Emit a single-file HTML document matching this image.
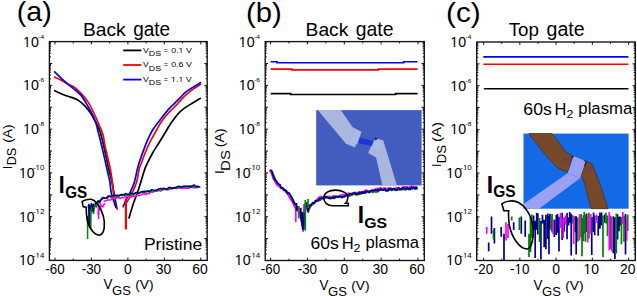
<!DOCTYPE html>
<html><head><meta charset="utf-8"><style>
html,body{margin:0;padding:0;background:#fff;width:637px;height:296px;overflow:hidden}
svg{display:block}
text{fill:#000}
</style></head><body><svg width="637" height="296" viewBox="0 0 637 296" font-family='"Liberation Sans", sans-serif'><path d="M54.7 90.7 C56.17 91.37 60.68 93.58 63.5 94.7 C66.32 95.82 69.12 96.45 71.6 97.4 C74.08 98.35 76.2 99 78.4 100.4 C80.6 101.8 82.83 103.77 84.8 105.8 C86.77 107.83 88.4 109.9 90.2 112.6 C92 115.3 93.98 118.93 95.6 122 C97.22 125.07 98.53 126.97 99.9 131 C101.27 135.03 102.37 140.07 103.8 146.2 C105.23 152.33 107.22 162.17 108.5 167.8 C109.78 173.43 110.5 175.3 111.5 180 C112.5 184.7 113.63 191.42 114.5 196 C115.37 200.58 116.33 205.58 116.7 207.5" fill="none" stroke="#000" stroke-width="1.7" stroke-linejoin="round" stroke-linecap="round"/><path d="M54.7 77.2 C55.72 77.65 58.65 78.78 60.8 79.9 C62.95 81.02 65.35 82.67 67.6 83.9 C69.85 85.13 72.05 85.72 74.3 87.3 C76.55 88.88 78.68 90.77 81.1 93.4 C83.52 96.03 86.62 99.68 88.8 103.1 C90.98 106.52 92.4 110.07 94.2 113.9 C96 117.73 98.13 122.58 99.6 126.1 C101.07 129.62 102.08 131.65 103 135 C103.92 138.35 103.85 140.37 105.1 146.2 C106.35 152.03 109.2 163.33 110.5 170 C111.8 176.67 112.38 181.97 112.9 186.2 C113.42 190.43 113.22 192.35 113.6 195.4 C113.98 198.45 114.57 202.23 115.2 204.5 C115.83 206.77 117.03 208.25 117.4 209" fill="none" stroke="#f00" stroke-width="1.7" stroke-linejoin="round" stroke-linecap="round"/><path d="M54.7 71.8 C55.72 72.8 58.65 75.78 60.8 77.8 C62.95 79.82 65.35 81.98 67.6 83.9 C69.85 85.82 72.05 87.38 74.3 89.3 C76.55 91.22 79.13 93.1 81.1 95.4 C83.07 97.7 84.37 100.23 86.1 103.1 C87.83 105.97 89.92 109.45 91.5 112.6 C93.08 115.75 94.57 119.1 95.6 122 C96.63 124.9 96.67 125.97 97.7 130 C98.73 134.03 100.22 139.53 101.8 146.2 C103.38 152.87 105.87 164.08 107.2 170 C108.53 175.92 109.1 177.73 109.8 181.7 C110.5 185.67 110.63 190.25 111.4 193.8 C112.17 197.35 113.65 200.72 114.4 203 C115.15 205.28 115.65 206.75 115.9 207.5" fill="none" stroke="#00f" stroke-width="1.7" stroke-linejoin="round" stroke-linecap="round"/><path d="M129 218 C129.72 215.63 131.67 208.72 133.3 203.8 C134.93 198.88 136.93 194.13 138.8 188.5 C140.67 182.87 143 174.35 144.5 170 C146 165.65 146.45 165.23 147.8 162.4 C149.15 159.57 150.68 156.37 152.6 153 C154.52 149.63 156.93 146.03 159.3 142.2 C161.67 138.37 164.95 133.03 166.8 130 C168.65 126.97 168.98 126.13 170.4 124 C171.82 121.87 173.67 119.25 175.3 117.2 C176.93 115.15 178.38 113.42 180.2 111.7 C182.02 109.98 184.18 108.32 186.2 106.9 C188.22 105.48 190.47 104.32 192.3 103.2 C194.13 102.08 195.85 101.02 197.2 100.2 C198.55 99.38 199.87 98.62 200.4 98.3" fill="none" stroke="#000" stroke-width="1.7" stroke-linejoin="round" stroke-linecap="round"/><path d="M126.5 202.5 C127.27 201.25 129.42 198.43 131.1 195 C132.78 191.57 135.27 186.2 136.6 181.9 C137.93 177.6 138.35 172.22 139.1 169.2 C139.85 166.18 140.1 166.5 141.1 163.8 C142.1 161.1 143.63 156.6 145.1 153 C146.57 149.4 147.98 146.03 149.9 142.2 C151.82 138.37 154.72 133.37 156.6 130 C158.48 126.63 159.3 124.75 161.2 122 C163.1 119.25 165.85 115.92 168 113.5 C170.15 111.08 172.07 109.62 174.1 107.5 C176.13 105.38 178.18 102.93 180.2 100.8 C182.22 98.67 183.98 96.68 186.2 94.7 C188.42 92.72 191.12 90.62 193.5 88.9 C195.88 87.18 199.33 85.15 200.5 84.4" fill="none" stroke="#f00" stroke-width="1.7" stroke-linejoin="round" stroke-linecap="round"/><path d="M123.2 206.6 C123.8 205.22 125.67 200.6 126.8 198.3 C127.93 196 128.73 195.53 130 192.8 C131.27 190.07 133.15 185.95 134.4 181.9 C135.65 177.85 136.62 171.97 137.5 168.5 C138.38 165.03 138.77 163.92 139.7 161.1 C140.63 158.28 141.85 154.98 143.1 151.6 C144.35 148.22 145.62 144.4 147.2 140.8 C148.78 137.2 150.72 133.13 152.6 130 C154.48 126.87 155.93 125.35 158.5 122 C161.07 118.65 165.4 112.93 168 109.9 C170.6 106.87 172.07 105.83 174.1 103.8 C176.13 101.77 178.18 99.73 180.2 97.7 C182.22 95.67 184.1 93.32 186.2 91.6 C188.3 89.88 190.42 88.88 192.8 87.4 C195.18 85.92 199.22 83.48 200.5 82.7" fill="none" stroke="#00f" stroke-width="1.7" stroke-linejoin="round" stroke-linecap="round"/><path d="M125.9 198.5 V229.5" stroke="#f00" stroke-width="2.2"/><path d="M104 201.08 L105.6 201.05 L107.2 200.06 L108.8 200.12 L110.4 199.99 L112 198.69 L113.6 197.41 L115.2 198.88 L116.8 197.55 L118.4 197.32 L120 198.63 L121.6 197.37 L123.2 197.9 L124.8 196.97 L126.4 197.09 L128 195.9 L129.6 196.69 L131.2 196.98 L132.8 196.12 L134.4 196.38 L136 196.06 L137.6 194.67 L139.2 195.78 L140.8 195.12 L142.4 194.22 L144 193.36 L145.6 194.71 L147.2 193.61 L148.8 193.82 L150.4 192.4 L152 191.84 L153.6 192.02 L155.2 190.73 L156.8 191.31 L158.4 190.36 L160 191.11 L161.6 190.76 L163.2 188.96 L164.8 188.8 L166.4 188.77 L168 190.08 L169.6 188.84 L171.2 189.04 L172.8 188.2 L174.4 188.43 L176 188 L177.6 187.75 L179.2 188.09 L180.8 187.98 L182.4 188.52 L184 187.96 L185.6 188.35 L187.2 188.1 L188.8 188.26 L190.4 187.52 L192 186.43 L193.6 187.74 L195.2 187.87 L196.8 187.67 L198.4 186.92 L200 187.13" fill="none" stroke="#f0f" stroke-width="1.5" stroke-linejoin="round" stroke-linecap="round" /><path d="M98.2 214 L98.6 206 L100 210 L101 205.5 L103 206.8 L104.5 203.5" fill="none" stroke="#f0f" stroke-width="1.6" stroke-linejoin="round" stroke-linecap="round" /><path d="M98 201.32 L99.6 201.67 L101.2 200.26 L102.8 198.78 L104.4 197.67 L106 198.61 L107.6 198.24 L109.2 196.15 L110.8 197.39 L112.4 196.44 L114 195.74 L115.6 195.85 L117.2 196.63 L118.8 196.64 L120.4 194.78 L122 195.71 L123.6 194.36 L125.2 195.5 L126.8 194.52 L128.4 195.42 L130 195.44 L131.6 194.31 L133.2 195.13 L134.8 193.57 L136.4 192.93 L138 193.8 L139.6 192.34 L141.2 192.35 L142.8 192.46 L144.4 192.54 L146 191.31 L147.6 190.76 L149.2 192.16 L150.8 190.82 L152.4 191.87 L154 191.51 L155.6 190.24 L157.2 190.17 L158.8 190.05 L160.4 190.06 L162 189.73 L163.6 189.42 L165.2 189.32 L166.8 189.77 L168.4 188.72 L170 188.39 L171.6 188.78 L173.2 187.63 L174.8 187.57 L176.4 188.74 L178 187.64 L179.6 187.59 L181.2 186.41 L182.8 187.11 L184.4 187.33 L186 186.11 L187.6 187.19 L189.2 187.12 L190.8 185.88 L192.4 186.93 L194 186.53 L195.6 186.88 L197.2 186.15 L198.8 186.77" fill="none" stroke="#080" stroke-width="1.5" stroke-linejoin="round" stroke-linecap="round" /><path d="M100 200.66 L101.6 198.33 L103.2 197.54 L104.8 198.13 L106.4 198.07 L108 196 L109.6 196.24 L111.2 196.33 L112.8 195.61 L114.4 195.52 L116 195.25 L117.6 195.18 L119.2 195.44 L120.8 194.64 L122.4 194.58 L124 195.16 L125.6 193.47 L127.2 194.34 L128.8 194.48 L130.4 193.46 L132 193.11 L133.6 194.09 L135.2 192.79 L136.8 192.51 L138.4 192.79 L140 193 L141.6 191.48 L143.2 191.6 L144.8 191.31 L146.4 191.99 L148 190.88 L149.6 191.48 L151.2 189.87 L152.8 189.97 L154.4 190.36 L156 190.59 L157.6 189.49 L159.2 188.8 L160.8 188.36 L162.4 188.94 L164 188.03 L165.6 189.04 L167.2 188.92 L168.8 187.43 L170.4 187.43 L172 188.31 L173.6 187.79 L175.2 187.94 L176.8 186.83 L178.4 186.23 L180 186.45 L181.6 187.35 L183.2 186.2 L184.8 186.24 L186.4 186.27 L188 186.17 L189.6 186.05 L191.2 186.98 L192.8 185.37 L194.4 184.99 L196 186.79 L197.6 186.58 L199.2 186.71" fill="none" stroke="#008" stroke-width="1.5" stroke-linejoin="round" stroke-linecap="round" /><path d="M88.2 207 L88.8 204.5 L89.3 224 L90 210 L91.3 203.6 L92.3 211 L93.3 204.2 L94.6 206.5 L95.8 201.8 L97 204.5 L98.2 200.6 L99.4 202.6 L100.5 201" fill="none" stroke="#008" stroke-width="1.5" stroke-linejoin="round" stroke-linecap="round" /><path d="M90.6 228 L90.9 212 L92 207.5 L93.5 213 L95 205 L96.5 207 L98 203" fill="none" stroke="#080" stroke-width="1.4" stroke-linejoin="round" stroke-linecap="round" /><path d="M87.6 216 V239 M90.6 210 V228 M93.5 206 V214" stroke="#080" stroke-width="1.5"/><path d="M89.1 204.4 V226 M92.9 204.4 V211.8" stroke="#008" stroke-width="1.5"/><path d="M98.6 205 V219 M100.4 203 V210" stroke="#f0f" stroke-width="1.6"/><path d="M86.2 207.2 L83.2 206.6 L82.1 201.4 C85 200 88 199.2 90.5 199.3 C96 199.6 101 208 103.3 216 C105.5 224 104.5 234 100 235 C95 236 88.5 228 87 219 C86.4 214 86.2 210 86.2 207.2 Z" fill="none" stroke="#000" stroke-width="1.6" stroke-linejoin="round"/><path d="M123.2 50.4H141.4" stroke="#000" stroke-width="1.8"/><text transform="translate(142.96 52.6) scale(1.072 1)" font-size="8.12">V</text><text transform="translate(148.79 56.02) scale(1.127 1)" font-size="7.89">DS</text><text transform="translate(163.85 52.82) scale(0.814 1)" font-size="8.62">=</text><text transform="translate(171.25 52.52) scale(1.118 1)" font-size="7.89">0.1 V</text><rect x="178.78" y="51.73" width="2" height="1.69" fill="#fff"/><rect x="181.63" y="51.73" width="1.96" height="1.69" fill="#fff"/><path d="M123.2 65H141.4" stroke="#f00" stroke-width="1.8"/><text transform="translate(142.96 67.2) scale(1.072 1)" font-size="8.12">V</text><text transform="translate(148.79 70.62) scale(1.127 1)" font-size="7.89">DS</text><text transform="translate(163.85 67.42) scale(0.814 1)" font-size="8.62">=</text><text transform="translate(171.25 67.12) scale(1.118 1)" font-size="7.89">0.6 V</text><path d="M123.2 79.6H141.4" stroke="#00f" stroke-width="1.8"/><text transform="translate(142.96 81.8) scale(1.072 1)" font-size="8.12">V</text><text transform="translate(148.79 85.22) scale(1.127 1)" font-size="7.89">DS</text><text transform="translate(163.85 82.02) scale(0.814 1)" font-size="8.62">=</text><text transform="translate(170.93 81.8) scale(1.104 1)" font-size="8.12">1.1 V</text><rect x="171.11" y="80.99" width="2.03" height="1.71" fill="#fff"/><rect x="174" y="80.99" width="1.99" height="1.71" fill="#fff"/><rect x="178.58" y="80.99" width="2.03" height="1.71" fill="#fff"/><rect x="181.47" y="80.99" width="1.99" height="1.71" fill="#fff"/><text transform="translate(58.81 193) scale(0.905 1)" font-size="23.62" font-weight="bold">I</text><text transform="translate(65.29 197.84) scale(0.954 1)" font-size="15.92" font-weight="bold">GS</text><text transform="translate(143.9 250.04) scale(1.081 1)" font-size="16.19">Pristine</text><text transform="translate(82.96 36.02) scale(1.072 1)" font-size="17.96">Back</text><text transform="translate(133.14 35.75) scale(0.960 1)" font-size="19.77">gate</text><text transform="translate(16.78 21.47) scale(1.014 1)" font-size="28.24">(a)</text><path d="M55 260.4v-2.8M55 41.6v2.8M91.45 260.4v-2.8M91.45 41.6v2.8M127.9 260.4v-2.8M127.9 41.6v2.8M164.35 260.4v-2.8M164.35 41.6v2.8M200.8 260.4v-2.8M200.8 41.6v2.8M73.22 260.4v-1.8M73.22 41.6v1.8M109.68 260.4v-1.8M109.68 41.6v1.8M146.12 260.4v-1.8M146.12 41.6v1.8M182.58 260.4v-1.8M182.58 41.6v1.8M49.4 260.4h2.8M207.2 260.4h-2.8M49.4 253.81h1.6M207.2 253.81h-1.6M49.4 249.96h1.6M207.2 249.96h-1.6M49.4 247.23h1.6M207.2 247.23h-1.6M49.4 245.11h1.6M207.2 245.11h-1.6M49.4 243.37h1.6M207.2 243.37h-1.6M49.4 241.91h1.6M207.2 241.91h-1.6M49.4 240.64h1.6M207.2 240.64h-1.6M49.4 239.52h1.6M207.2 239.52h-1.6M49.4 238.52h2.8M207.2 238.52h-2.8M49.4 231.93h1.6M207.2 231.93h-1.6M49.4 228.08h1.6M207.2 228.08h-1.6M49.4 225.35h1.6M207.2 225.35h-1.6M49.4 223.23h1.6M207.2 223.23h-1.6M49.4 221.49h1.6M207.2 221.49h-1.6M49.4 220.03h1.6M207.2 220.03h-1.6M49.4 218.76h1.6M207.2 218.76h-1.6M49.4 217.64h1.6M207.2 217.64h-1.6M49.4 216.64h2.8M207.2 216.64h-2.8M49.4 210.05h1.6M207.2 210.05h-1.6M49.4 206.2h1.6M207.2 206.2h-1.6M49.4 203.47h1.6M207.2 203.47h-1.6M49.4 201.35h1.6M207.2 201.35h-1.6M49.4 199.61h1.6M207.2 199.61h-1.6M49.4 198.15h1.6M207.2 198.15h-1.6M49.4 196.88h1.6M207.2 196.88h-1.6M49.4 195.76h1.6M207.2 195.76h-1.6M49.4 194.76h2.8M207.2 194.76h-2.8M49.4 188.17h1.6M207.2 188.17h-1.6M49.4 184.32h1.6M207.2 184.32h-1.6M49.4 181.59h1.6M207.2 181.59h-1.6M49.4 179.47h1.6M207.2 179.47h-1.6M49.4 177.73h1.6M207.2 177.73h-1.6M49.4 176.27h1.6M207.2 176.27h-1.6M49.4 175h1.6M207.2 175h-1.6M49.4 173.88h1.6M207.2 173.88h-1.6M49.4 172.88h2.8M207.2 172.88h-2.8M49.4 166.29h1.6M207.2 166.29h-1.6M49.4 162.44h1.6M207.2 162.44h-1.6M49.4 159.71h1.6M207.2 159.71h-1.6M49.4 157.59h1.6M207.2 157.59h-1.6M49.4 155.85h1.6M207.2 155.85h-1.6M49.4 154.39h1.6M207.2 154.39h-1.6M49.4 153.12h1.6M207.2 153.12h-1.6M49.4 152h1.6M207.2 152h-1.6M49.4 151h2.8M207.2 151h-2.8M49.4 144.41h1.6M207.2 144.41h-1.6M49.4 140.56h1.6M207.2 140.56h-1.6M49.4 137.83h1.6M207.2 137.83h-1.6M49.4 135.71h1.6M207.2 135.71h-1.6M49.4 133.97h1.6M207.2 133.97h-1.6M49.4 132.51h1.6M207.2 132.51h-1.6M49.4 131.24h1.6M207.2 131.24h-1.6M49.4 130.12h1.6M207.2 130.12h-1.6M49.4 129.12h2.8M207.2 129.12h-2.8M49.4 122.53h1.6M207.2 122.53h-1.6M49.4 118.68h1.6M207.2 118.68h-1.6M49.4 115.95h1.6M207.2 115.95h-1.6M49.4 113.83h1.6M207.2 113.83h-1.6M49.4 112.09h1.6M207.2 112.09h-1.6M49.4 110.63h1.6M207.2 110.63h-1.6M49.4 109.36h1.6M207.2 109.36h-1.6M49.4 108.24h1.6M207.2 108.24h-1.6M49.4 107.24h2.8M207.2 107.24h-2.8M49.4 100.65h1.6M207.2 100.65h-1.6M49.4 96.8h1.6M207.2 96.8h-1.6M49.4 94.07h1.6M207.2 94.07h-1.6M49.4 91.95h1.6M207.2 91.95h-1.6M49.4 90.21h1.6M207.2 90.21h-1.6M49.4 88.75h1.6M207.2 88.75h-1.6M49.4 87.48h1.6M207.2 87.48h-1.6M49.4 86.36h1.6M207.2 86.36h-1.6M49.4 85.36h2.8M207.2 85.36h-2.8M49.4 78.77h1.6M207.2 78.77h-1.6M49.4 74.92h1.6M207.2 74.92h-1.6M49.4 72.19h1.6M207.2 72.19h-1.6M49.4 70.07h1.6M207.2 70.07h-1.6M49.4 68.33h1.6M207.2 68.33h-1.6M49.4 66.87h1.6M207.2 66.87h-1.6M49.4 65.6h1.6M207.2 65.6h-1.6M49.4 64.48h1.6M207.2 64.48h-1.6M49.4 63.48h2.8M207.2 63.48h-2.8M49.4 56.89h1.6M207.2 56.89h-1.6M49.4 53.04h1.6M207.2 53.04h-1.6M49.4 50.31h1.6M207.2 50.31h-1.6M49.4 48.19h1.6M207.2 48.19h-1.6M49.4 46.45h1.6M207.2 46.45h-1.6M49.4 44.99h1.6M207.2 44.99h-1.6M49.4 43.72h1.6M207.2 43.72h-1.6M49.4 42.6h1.6M207.2 42.6h-1.6" stroke="#111" stroke-width="1.0" fill="none"/><rect x="49.4" y="41.6" width="157.8" height="218.8" fill="none" stroke="#111" stroke-width="1.35"/><text transform="translate(23.03 46.51) scale(0.998 1)" font-size="14.23">10</text><rect x="23.32" y="45.09" width="3.22" height="2.32" fill="#fff"/><rect x="27.91" y="45.09" width="3.15" height="2.32" fill="#fff"/><text transform="translate(38.3 38.6) scale(1.143 1)" font-size="5.80">-4</text><text transform="translate(23.03 90.27) scale(0.998 1)" font-size="14.23">10</text><rect x="23.32" y="88.85" width="3.22" height="2.32" fill="#fff"/><rect x="27.91" y="88.85" width="3.15" height="2.32" fill="#fff"/><text transform="translate(38.3 82.3) scale(1.191 1)" font-size="5.63">-6</text><text transform="translate(23.03 134.03) scale(0.998 1)" font-size="14.23">10</text><rect x="23.32" y="132.61" width="3.22" height="2.32" fill="#fff"/><rect x="27.91" y="132.61" width="3.15" height="2.32" fill="#fff"/><text transform="translate(38.3 126.06) scale(1.191 1)" font-size="5.63">-8</text><text transform="translate(19.05 177.79) scale(0.984 1)" font-size="14.23">10</text><rect x="19.33" y="176.37" width="3.18" height="2.32" fill="#fff"/><rect x="23.85" y="176.37" width="3.11" height="2.32" fill="#fff"/><text transform="translate(32.94 169.91) scale(1.206 1)" font-size="6.62">-10</text><rect x="35.76" y="169.25" width="1.81" height="1.56" fill="#fff"/><rect x="38.34" y="169.25" width="1.77" height="1.56" fill="#fff"/><text transform="translate(19.05 221.55) scale(0.984 1)" font-size="14.23">10</text><rect x="19.33" y="220.13" width="3.18" height="2.32" fill="#fff"/><rect x="23.85" y="220.13" width="3.11" height="2.32" fill="#fff"/><text transform="translate(32.94 213.74) scale(1.203 1)" font-size="6.71">-12</text><rect x="35.79" y="213.07" width="1.83" height="1.57" fill="#fff"/><rect x="38.39" y="213.07" width="1.79" height="1.57" fill="#fff"/><text transform="translate(19.05 265.31) scale(0.984 1)" font-size="14.23">10</text><rect x="19.33" y="263.89" width="3.18" height="2.32" fill="#fff"/><rect x="23.85" y="263.89" width="3.11" height="2.32" fill="#fff"/><text transform="translate(32.94 257.5) scale(1.168 1)" font-size="6.81">-14</text><rect x="35.75" y="256.82" width="1.81" height="1.58" fill="#fff"/><rect x="38.32" y="256.82" width="1.77" height="1.58" fill="#fff"/><text transform="translate(45.25 274.06) scale(0.961 1)" font-size="13.94">-60</text><text transform="translate(81.7 274.06) scale(0.961 1)" font-size="13.94">-30</text><text transform="translate(124 274.06) scale(1.000 1)" font-size="13.94">0</text><text transform="translate(155.78 274.06) scale(1.000 1)" font-size="13.94">30</text><text transform="translate(192.16 274.06) scale(1.000 1)" font-size="13.94">60</text><text transform="translate(11.8 169.35) rotate(-90)" font-size="12.75">I</text><text transform="translate(16.48 165.32) rotate(-90) scale(1.025 1)" font-size="12.39">DS</text><text transform="translate(11.81 142.83) rotate(-90) scale(1.041 1)" font-size="13.26">(A)</text><text transform="translate(103.43 288.6) scale(0.966 1)" font-size="13.91">V</text><text transform="translate(112.05 294.66) scale(0.954 1)" font-size="13.66">GS</text><text transform="translate(135.17 288.54) scale(1.049 1)" font-size="13.16">(V)</text><rect x="316.2" y="110.1" width="105.4" height="75.3" fill="#425cbf"/><path d="M317.7 110.1 L340.8 110.1 L352.7 127.3 L361.6 131.8 L354.9 147.6 L346 143.7Z" fill="#aab6de" /><path d="M375.2 137.7 L383.3 140.4 L396.9 185.4 L382.4 185.4 L376.1 157.4 L368.1 152.9Z" fill="#aab6de" /><path d="M359.4 137.4 L373.5 141.1 L371.7 146 L357.9 143Z" fill="#1c34da" /><path d="M353.5 132.2 L361.2 132.2 L357.5 144.5 L351 142Z" fill="#a9bdee" opacity="0.7"/><path d="M373.8 138.2 L375.4 137.5 L378.5 138.7 L375 140.6Z" fill="#27306a" /><path d="M374 142 L381 141.5 L384 148 L376 150Z" fill="#b0c0ec" opacity="0.5"/><path d="M270.6 61.8H277.1V62.8H403.7V61.8H417.6" stroke="#00f" stroke-width="1.6" fill="none"/><path d="M270.6 69.1H291.7V69.9H378.4V69.1H417.6" stroke="#f00" stroke-width="1.6" fill="none"/><path d="M270.7 93.6H290.7V94.5H395.6V93.6H417.6" stroke="#000" stroke-width="1.6" fill="none"/><path d="M270 170.51 L271.57 173.73 L273.13 178.43 L274.7 180.76 L276.4 184.13 L278.1 186.1 L279.45 186.43 L280.8 188.42 L282.15 188.38 L283.5 190.25 L285.07 191.05 L286.63 192.7 L288.2 195.03 L290.3 199.22 L291.8 200.72 L293.3 203.99 L294.85 207.18 L296.4 210.18 L297.67 210.87 L298.93 211.97 L300.2 214.75 L301.7 221.9 L303.3 231.29 L304 219.34 L304.8 205.32 L306.3 203.76 L307.8 211.78 L309.3 208.4 L311.6 205.4 L312.87 204.48 L314.13 202.81 L315.4 200.42 L316.93 199.77 L318.47 197.67 L320 196.63 L321.5 196.62 L323 197.33 L324.5 196.44 L325.88 196.24 L327.25 196.89 L328.62 196.65 L330 196.36 L331.25 197.25 L332.5 196.84 L333.75 195.64 L335 196.16 L336.25 195.96 L337.5 196.63 L338.75 196.2 L340 195.13 L341.25 196.41 L342.5 194.26 L343.75 194.67 L345 195.17 L346.25 193.58 L347.5 194.08 L348.75 192.84 L350 193.97 L351.25 193.97 L352.5 193.33 L353.75 193.78 L355 192.32 L356.25 192.95 L357.5 192.51 L358.75 192.26 L360 191.77 L361.25 192.4 L362.5 192.41 L363.75 191.16 L365 191.36 L366.25 189.87 L367.5 191.11 L368.75 190.82 L370 191.42 L371.25 190.87 L372.5 189.53 L373.75 189.58 L375 190.04 L376.25 188.45 L377.5 189.25 L378.75 188.44 L380 188.16 L381.25 187.96 L382.5 189.46 L383.75 187.98 L385 188.18 L386.25 188.43 L387.5 189.42 L388.75 187.61 L390 188.35 L391.25 188.51 L392.5 189.18 L393.75 188.97 L395 189 L396.25 187.64 L397.5 187.86 L398.75 187.66 L400 188.75 L401.25 188.83 L402.5 186.98 L403.75 186.96 L405 187.01 L406.3 186.92 L407.6 187.39 L408.9 187.53 L410.2 186.72 L411.5 186.06 L412.8 186.89 L414.1 186.69 L415.4 187.03 L416.7 186.8" fill="none" stroke="#f0f" stroke-width="1.7" stroke-linejoin="round" stroke-linecap="round" /><path d="M271.4 170.91 L272.97 173.98 L274.53 177.23 L276.1 181.04 L277.8 183.5 L279.5 184.61 L280.85 187.3 L282.2 188.06 L283.55 189.25 L284.9 190.1 L286.47 190.88 L288.03 192.5 L289.6 193.51 L291.7 197.87 L293.2 199.77 L294.7 202.83 L296.25 205.42 L297.8 207.62 L299.3 210.23 L300.8 211.91 L302.3 221 L303.9 228.9 L304.6 218.1 L305.4 204.93 L306.9 202.75 L308.4 212.05 L309.9 207.03 L312.2 204.5 L313.47 203.7 L314.73 202.89 L316 201.93 L317.53 200.41 L319.07 200.83 L320.6 200.09 L322.1 198.7 L323.6 198.4 L325.1 197.27 L326.48 197.35 L327.85 197.89 L329.23 197.78 L330.6 198.96 L331.85 197.42 L333.1 196.95 L334.35 198.6 L335.6 197.56 L336.85 196.69 L338.1 197.39 L339.35 196.25 L340.6 197.16 L341.85 197.81 L343.1 197.33 L344.35 196.74 L345.6 195.62 L346.85 195.58 L348.1 194.93 L349.35 195.89 L350.6 195.17 L351.85 195.44 L353.1 194.33 L354.35 193.9 L355.6 194.86 L356.85 194.99 L358.1 194.51 L359.35 194.2 L360.6 194 L361.85 193.63 L363.1 192.39 L364.35 192.75 L365.6 192.21 L366.85 191.39 L368.1 191.22 L369.35 191.56 L370.6 191.35 L371.85 192.05 L373.1 192.41 L374.35 191.23 L375.6 192.04 L376.85 191.98 L378.1 191.74 L379.35 190.4 L380.6 189.94 L381.85 189.89 L383.1 189.76 L384.35 189.71 L385.6 190.48 L386.85 190.97 L388.1 190.78 L389.35 189.99 L390.6 190.27 L391.85 190.5 L393.1 189 L394.35 190.09 L395.6 190.52 L396.85 190.19 L398.1 190.05 L399.35 189.43 L400.6 188.76 L401.85 189.9 L403.1 188.92 L404.35 189.78 L405.6 190.04 L406.9 188.8 L408.2 188.72 L409.5 189.73 L410.8 189.19 L412.1 188 L413.4 187.82 L414.7 187.78 L416 189.2 L417.3 188.3" fill="none" stroke="#080" stroke-width="1.7" stroke-linejoin="round" stroke-linecap="round" /><path d="M270.8 170.17 L271.98 171.42 L273.15 175.62 L274.32 178.66 L275.5 180.65 L276.63 181.54 L277.77 183.54 L278.9 184.19 L279.98 184.73 L281.06 187.64 L282.14 187.73 L283.22 188.26 L284.3 189.95 L285.48 190.05 L286.65 192.22 L287.82 193.32 L289 193.16 L290.05 194.9 L291.1 196.64 L292.1 198.56 L293.1 201.36 L294.1 202.67 L295.13 204.56 L296.17 205.46 L297.2 208.7 L298.2 208.98 L299.2 210.71 L300.2 212.48 L301.7 222.39 L303.3 228.93 L304 219.32 L304.8 204.7 L306.3 203.27 L307.8 210.85 L309.3 205.24 L310.45 205.37 L311.6 204 L312.87 202.61 L314.13 203.36 L315.4 200.98 L316.55 200.87 L317.7 200.65 L318.85 199.5 L320 198.22 L321.12 198.39 L322.25 198.22 L323.38 198.48 L324.5 196.73 L325.6 197.77 L326.7 197.13 L327.8 197.23 L328.9 198.36 L330 197.82 L331 197.78 L332 198.05 L333 198.23 L334 197.04 L335 197.25 L336 196.93 L337 196.87 L338 197.18 L339 196.58 L340 196.67 L341 196.35 L342 197.17 L343 196.44 L344 196.63 L345 196.57 L346 194.87 L347 195.33 L348 195.98 L349 195.55 L350 193.8 L351 193.59 L352 194.13 L353 193.14 L354 193.34 L355 192.79 L356 193.93 L357 194.01 L358 194.09 L359 192.28 L360 193.34 L361 193.05 L362 191.73 L363 193.19 L364 193.2 L365 191.38 L366 192.86 L367 191.51 L368 191.57 L369 192.54 L370 192.06 L371 190.46 L372 190.92 L373 190.97 L374 190.45 L375 190 L376 190.13 L377 190.89 L378 189.21 L379 190.25 L380 189.87 L381 188.89 L382 189.52 L383 190.11 L384 189.81 L385 188.77 L386 190.75 L387 190.26 L388 190.61 L389 188.65 L390 188.95 L391 188.4 L392 189.97 L393 188.8 L394 188.44 L395 189.03 L396 190.05 L397 189.78 L398 188.49 L399 188.19 L400 189.82 L401 189 L402 189.22 L403 187.82 L404 187.69 L405 189.01 L406.06 188.36 L407.13 187.51 L408.19 189.35 L409.25 188.6 L410.32 188.9 L411.38 187.25 L412.45 188.87 L413.51 187.06 L414.57 188.74 L415.64 187.77 L416.7 187.8" fill="none" stroke="#008" stroke-width="1.8" stroke-linejoin="round" stroke-linecap="round" /><path d="M295.8 205 V222.2 M304 204 V212.3 M299.5 207 V214" stroke="#f0f" stroke-width="1.7"/><path d="M305.3 200 V230.6 M298.7 206 V218.4 M308 199 V208" stroke="#080" stroke-width="1.7"/><path d="M302.6 212 V229.5 M296.5 203 V211 M300.8 208 V216" stroke="#008" stroke-width="1.7"/><path d="M345.5 203.3 L348.3 203.3 L348.3 205.8 L333 205.8 C327 205.8 323.8 202 323.8 197.7 C323.8 193 329 190.1 335.5 190.1 C342 190.1 347.8 193 347.8 197.5 C347.8 200 347 202 345.5 203.3 Z" fill="none" stroke="#000" stroke-width="1.6"/><text transform="translate(357.72 223.4) scale(0.975 1)" font-size="23.33" font-weight="bold">I</text><text transform="translate(364.27 227.95) scale(1.032 1)" font-size="15.35" font-weight="bold">GS</text><text transform="translate(310.42 248.63) scale(1.023 1)" font-size="17.18">60s</text><text transform="translate(341.67 248.6) scale(0.955 1)" font-size="17.39">H</text><text transform="translate(353.47 252.1) scale(1.253 1)" font-size="10.00">2</text><text transform="translate(365.62 248.31) scale(1.025 1)" font-size="16.15">plasma</text><text transform="translate(305.56 36.02) scale(1.064 1)" font-size="18.10">Back</text><text transform="translate(355.72 35.75) scale(0.982 1)" font-size="19.77">gate</text><text transform="translate(246.04 21.55) scale(1.033 1)" font-size="28.34">(b)</text><path d="M270.6 260.5v-2.8M270.6 41.6v2.8M307.45 260.5v-2.8M307.45 41.6v2.8M344.3 260.5v-2.8M344.3 41.6v2.8M381.15 260.5v-2.8M381.15 41.6v2.8M418 260.5v-2.8M418 41.6v2.8M289.03 260.5v-1.8M289.03 41.6v1.8M325.88 260.5v-1.8M325.88 41.6v1.8M362.73 260.5v-1.8M362.73 41.6v1.8M399.57 260.5v-1.8M399.57 41.6v1.8M265.2 260.5h2.8M424.3 260.5h-2.8M265.2 253.91h1.6M424.3 253.91h-1.6M265.2 250.06h1.6M424.3 250.06h-1.6M265.2 247.32h1.6M424.3 247.32h-1.6M265.2 245.2h1.6M424.3 245.2h-1.6M265.2 243.47h1.6M424.3 243.47h-1.6M265.2 242h1.6M424.3 242h-1.6M265.2 240.73h1.6M424.3 240.73h-1.6M265.2 239.61h1.6M424.3 239.61h-1.6M265.2 238.61h2.8M424.3 238.61h-2.8M265.2 232.02h1.6M424.3 232.02h-1.6M265.2 228.17h1.6M424.3 228.17h-1.6M265.2 225.43h1.6M424.3 225.43h-1.6M265.2 223.31h1.6M424.3 223.31h-1.6M265.2 221.58h1.6M424.3 221.58h-1.6M265.2 220.11h1.6M424.3 220.11h-1.6M265.2 218.84h1.6M424.3 218.84h-1.6M265.2 217.72h1.6M424.3 217.72h-1.6M265.2 216.72h2.8M424.3 216.72h-2.8M265.2 210.13h1.6M424.3 210.13h-1.6M265.2 206.28h1.6M424.3 206.28h-1.6M265.2 203.54h1.6M424.3 203.54h-1.6M265.2 201.42h1.6M424.3 201.42h-1.6M265.2 199.69h1.6M424.3 199.69h-1.6M265.2 198.22h1.6M424.3 198.22h-1.6M265.2 196.95h1.6M424.3 196.95h-1.6M265.2 195.83h1.6M424.3 195.83h-1.6M265.2 194.83h2.8M424.3 194.83h-2.8M265.2 188.24h1.6M424.3 188.24h-1.6M265.2 184.39h1.6M424.3 184.39h-1.6M265.2 181.65h1.6M424.3 181.65h-1.6M265.2 179.53h1.6M424.3 179.53h-1.6M265.2 177.8h1.6M424.3 177.8h-1.6M265.2 176.33h1.6M424.3 176.33h-1.6M265.2 175.06h1.6M424.3 175.06h-1.6M265.2 173.94h1.6M424.3 173.94h-1.6M265.2 172.94h2.8M424.3 172.94h-2.8M265.2 166.35h1.6M424.3 166.35h-1.6M265.2 162.5h1.6M424.3 162.5h-1.6M265.2 159.76h1.6M424.3 159.76h-1.6M265.2 157.64h1.6M424.3 157.64h-1.6M265.2 155.91h1.6M424.3 155.91h-1.6M265.2 154.44h1.6M424.3 154.44h-1.6M265.2 153.17h1.6M424.3 153.17h-1.6M265.2 152.05h1.6M424.3 152.05h-1.6M265.2 151.05h2.8M424.3 151.05h-2.8M265.2 144.46h1.6M424.3 144.46h-1.6M265.2 140.61h1.6M424.3 140.61h-1.6M265.2 137.87h1.6M424.3 137.87h-1.6M265.2 135.75h1.6M424.3 135.75h-1.6M265.2 134.02h1.6M424.3 134.02h-1.6M265.2 132.55h1.6M424.3 132.55h-1.6M265.2 131.28h1.6M424.3 131.28h-1.6M265.2 130.16h1.6M424.3 130.16h-1.6M265.2 129.16h2.8M424.3 129.16h-2.8M265.2 122.57h1.6M424.3 122.57h-1.6M265.2 118.72h1.6M424.3 118.72h-1.6M265.2 115.98h1.6M424.3 115.98h-1.6M265.2 113.86h1.6M424.3 113.86h-1.6M265.2 112.13h1.6M424.3 112.13h-1.6M265.2 110.66h1.6M424.3 110.66h-1.6M265.2 109.39h1.6M424.3 109.39h-1.6M265.2 108.27h1.6M424.3 108.27h-1.6M265.2 107.27h2.8M424.3 107.27h-2.8M265.2 100.68h1.6M424.3 100.68h-1.6M265.2 96.83h1.6M424.3 96.83h-1.6M265.2 94.09h1.6M424.3 94.09h-1.6M265.2 91.97h1.6M424.3 91.97h-1.6M265.2 90.24h1.6M424.3 90.24h-1.6M265.2 88.77h1.6M424.3 88.77h-1.6M265.2 87.5h1.6M424.3 87.5h-1.6M265.2 86.38h1.6M424.3 86.38h-1.6M265.2 85.38h2.8M424.3 85.38h-2.8M265.2 78.79h1.6M424.3 78.79h-1.6M265.2 74.94h1.6M424.3 74.94h-1.6M265.2 72.2h1.6M424.3 72.2h-1.6M265.2 70.08h1.6M424.3 70.08h-1.6M265.2 68.35h1.6M424.3 68.35h-1.6M265.2 66.88h1.6M424.3 66.88h-1.6M265.2 65.61h1.6M424.3 65.61h-1.6M265.2 64.49h1.6M424.3 64.49h-1.6M265.2 63.49h2.8M424.3 63.49h-2.8M265.2 56.9h1.6M424.3 56.9h-1.6M265.2 53.05h1.6M424.3 53.05h-1.6M265.2 50.31h1.6M424.3 50.31h-1.6M265.2 48.19h1.6M424.3 48.19h-1.6M265.2 46.46h1.6M424.3 46.46h-1.6M265.2 44.99h1.6M424.3 44.99h-1.6M265.2 43.72h1.6M424.3 43.72h-1.6M265.2 42.6h1.6M424.3 42.6h-1.6" stroke="#111" stroke-width="1.0" fill="none"/><rect x="265.2" y="41.6" width="159.1" height="218.9" fill="none" stroke="#111" stroke-width="1.35"/><text transform="translate(238.83 46.51) scale(0.998 1)" font-size="14.23">10</text><rect x="239.12" y="45.09" width="3.22" height="2.32" fill="#fff"/><rect x="243.71" y="45.09" width="3.15" height="2.32" fill="#fff"/><text transform="translate(254.1 38.6) scale(1.143 1)" font-size="5.80">-4</text><text transform="translate(238.83 90.29) scale(0.998 1)" font-size="14.23">10</text><rect x="239.12" y="88.87" width="3.22" height="2.32" fill="#fff"/><rect x="243.71" y="88.87" width="3.15" height="2.32" fill="#fff"/><text transform="translate(254.1 82.32) scale(1.191 1)" font-size="5.63">-6</text><text transform="translate(238.83 134.07) scale(0.998 1)" font-size="14.23">10</text><rect x="239.12" y="132.65" width="3.22" height="2.32" fill="#fff"/><rect x="243.71" y="132.65" width="3.15" height="2.32" fill="#fff"/><text transform="translate(254.1 126.1) scale(1.191 1)" font-size="5.63">-8</text><text transform="translate(234.85 177.85) scale(0.984 1)" font-size="14.23">10</text><rect x="235.13" y="176.43" width="3.18" height="2.32" fill="#fff"/><rect x="239.65" y="176.43" width="3.11" height="2.32" fill="#fff"/><text transform="translate(248.74 169.97) scale(1.206 1)" font-size="6.62">-10</text><rect x="251.56" y="169.31" width="1.81" height="1.56" fill="#fff"/><rect x="254.14" y="169.31" width="1.77" height="1.56" fill="#fff"/><text transform="translate(234.85 221.63) scale(0.984 1)" font-size="14.23">10</text><rect x="235.13" y="220.21" width="3.18" height="2.32" fill="#fff"/><rect x="239.65" y="220.21" width="3.11" height="2.32" fill="#fff"/><text transform="translate(248.74 213.82) scale(1.203 1)" font-size="6.71">-12</text><rect x="251.59" y="213.15" width="1.83" height="1.57" fill="#fff"/><rect x="254.19" y="213.15" width="1.79" height="1.57" fill="#fff"/><text transform="translate(234.85 265.41) scale(0.984 1)" font-size="14.23">10</text><rect x="235.13" y="263.99" width="3.18" height="2.32" fill="#fff"/><rect x="239.65" y="263.99" width="3.11" height="2.32" fill="#fff"/><text transform="translate(248.74 257.6) scale(1.168 1)" font-size="6.81">-14</text><rect x="251.55" y="256.92" width="1.81" height="1.58" fill="#fff"/><rect x="254.12" y="256.92" width="1.77" height="1.58" fill="#fff"/><text transform="translate(260.85 274.06) scale(0.961 1)" font-size="13.94">-60</text><text transform="translate(297.7 274.06) scale(0.961 1)" font-size="13.94">-30</text><text transform="translate(340.4 274.06) scale(1.000 1)" font-size="13.94">0</text><text transform="translate(372.58 274.06) scale(1.000 1)" font-size="13.94">30</text><text transform="translate(409.36 274.06) scale(1.000 1)" font-size="13.94">60</text><text transform="translate(224.3 174.11) rotate(-90)" font-size="13.19">I</text><text transform="translate(229.66 170.9) rotate(-90) scale(1.098 1)" font-size="13.66">DS</text><text transform="translate(224.3 147.26) rotate(-90) scale(1.114 1)" font-size="12.83">(A)</text><text transform="translate(319.43 290) scale(0.966 1)" font-size="13.91">V</text><text transform="translate(328.05 296.06) scale(0.954 1)" font-size="13.66">GS</text><text transform="translate(351.17 289.94) scale(1.049 1)" font-size="13.16">(V)</text><rect x="523.5" y="133.6" width="105.1" height="75.1" fill="#136ae4"/><path d="M528.8 133.6 L552.1 133.6 L563 148 L564.8 151.1 L572.4 156.2 L568 172.5 L566.5 171.4 L563 170.5 L556.5 166.9 L543.4 152.4Z" fill="#78482a" stroke="#4a2a18" stroke-width="0.7"/><path d="M585.8 161.3 L592 163.6 L600.3 185 L608 208.7 L591 208.7 L585 185 L581.3 175Z" fill="#78482a" stroke="#4a2a18" stroke-width="0.7"/><ellipse cx="566" cy="160" rx="4" ry="3" fill="#6a3d55" opacity="0.45"/><ellipse cx="589" cy="169" rx="3.5" ry="3" fill="#6a3d55" opacity="0.45"/><path d="M573.7 156 L585.8 161.3 L580 178.3 L567.6 173.2Z" fill="#9aa0f2" /><path d="M571.8 157.5 L573.7 156 M584.5 160.6 L586.2 161.6 L584.8 166" stroke="#2a1a20" stroke-width="1.2" fill="none"/><path d="M567.6 173.2 L580 178.3 L539 208.7 L523.5 208.7 L523.5 204Z" fill="#9aa0f2" /><path d="M483.3 56.9H628.4" stroke="#00f" stroke-width="1.6"/><path d="M483.3 64.2H628.4" stroke="#f00" stroke-width="1.6"/><path d="M483.8 88.8H628.4" stroke="#000" stroke-width="1.6"/><path d="M488.7 242.5V251.2M491.5 216.5V233.8M494.4 228V243.5M501.2 227V236.7M504 233.8V260.5M513.7 222.3V230M521.3 216.5V233.8M525.2 220.4V236.7M533.6 215.43V229.9M535.19 220.86V258.01M536.71 213.12V229.83M537.8 213.24V234.53M540.9 220.98V259.5M542.51 214.84V223.4M544.17 219.77V247.27M545.92 214.68V249.26M547.8 213.58V238.93M548.97 215.66V254.27M549.99 213.81V228.18M554.38 219.84V237.04M556.27 215.07V235.01M557.46 213.72V232.64M558.97 216.63V251.4M562.16 212.73V240.02M564.26 217.76V231.39M567.04 212.98V239.21M568.55 217.46V225.6M569.72 211.89V222.84M571.19 213.85V255.58M575.2 216.25V232.24M576.18 216.29V254.61M586.59 213.46V231.89M591.74 216.94V254.9M593.59 212.6V231.9M594.7 215.57V235.35M598.22 216.11V235.81M599.91 212.38V228.68M601.64 212.42V225.45M604.57 214.59V222.67M613.28 216.19V253.18M614.9 217.35V259.03M617.58 214.37V239.58M618.97 216.76V231.16M620.04 216.62V225.81M625.5 213.98V254.59" stroke="#00008b" stroke-width="1.7" fill="none"/><path d="M493.5 230V239.6M511.7 216.5V220.4M519.4 217.5V230M529 233.8V256.9M530.5 217.48V252M531.91 214.48V238.04M539.54 218.12V242.07M551.07 216.58V230.43M552.1 213.93V232.49M572.75 215.3V223.58M577.78 217.45V241.67M581.05 213.99V237.29M582.03 217.96V256.15M583.32 215.28V241.34M584.31 211.69V233.47M585.44 214.73V241.78M588.89 212.79V238.46M602.98 215.76V257.18M605.94 212.66V223.43M607.54 215.49V236.22M610.26 215.57V248.84M616.33 213.58V253.56M621.46 216.96V244.31M624.04 215.65V241.78M627.71 214.77V231.1" stroke="#008000" stroke-width="1.7" fill="none"/><path d="M486.7 227V233.8M506 222.3V240.6M508 224V238M553.27 219.43V234.51M560.44 212.69V227.96M563.25 217.23V238.29M565.42 215.38V224.78M573.67 216.06V244.35M579.58 214.21V240.57M587.66 215.79V242.49M590.7 214V233.8M596.44 214.44V222.69M609.23 212.07V250.18M611.73 216.68V251.17M622.85 212.06V224.27M626.61 217.79V240.67" stroke="#ff00ff" stroke-width="1.7" fill="none"/><path d="M508.7 210.7 L503.8 210.7 L501.9 203.8 C505 201.5 509 200.9 512 200.9 C522 201 530 212 532.5 224 C534.5 236 532 249 527 249 C520 249 512 238 509.5 226 C508.5 220 508.3 215 508.7 210.7 Z" fill="none" stroke="#000" stroke-width="1.6"/><text transform="translate(486.82 193) scale(0.963 1)" font-size="23.62" font-weight="bold">I</text><text transform="translate(493.28 197.14) scale(0.994 1)" font-size="15.63" font-weight="bold">GS</text><text transform="translate(523.32 114.63) scale(1.027 1)" font-size="17.18">60s</text><text transform="translate(554.49 114.6) scale(0.945 1)" font-size="17.39">H</text><text transform="translate(566.48 118.1) scale(1.231 1)" font-size="10.00">2</text><text transform="translate(578.31 114.4) scale(1.005 1)" font-size="16.68">plasma</text><text transform="translate(508.72 36.26) scale(0.977 1)" font-size="19.22">Top</text><text transform="translate(546.52 35.75) scale(0.990 1)" font-size="19.77">gate</text><text transform="translate(446.01 21.55) scale(1.050 1)" font-size="28.34">(c)</text><path d="M483.6 260.5v-2.8M483.6 42v2.8M519.85 260.5v-2.8M519.85 42v2.8M556.1 260.5v-2.8M556.1 42v2.8M592.35 260.5v-2.8M592.35 42v2.8M628.6 260.5v-2.8M628.6 42v2.8M501.73 260.5v-1.8M501.73 42v1.8M537.98 260.5v-1.8M537.98 42v1.8M574.23 260.5v-1.8M574.23 42v1.8M610.48 260.5v-1.8M610.48 42v1.8M476.7 260.5h2.8M635.3 260.5h-2.8M476.7 253.92h1.6M635.3 253.92h-1.6M476.7 250.07h1.6M635.3 250.07h-1.6M476.7 247.34h1.6M635.3 247.34h-1.6M476.7 245.23h1.6M635.3 245.23h-1.6M476.7 243.5h1.6M635.3 243.5h-1.6M476.7 242.03h1.6M635.3 242.03h-1.6M476.7 240.77h1.6M635.3 240.77h-1.6M476.7 239.65h1.6M635.3 239.65h-1.6M476.7 238.65h2.8M635.3 238.65h-2.8M476.7 232.07h1.6M635.3 232.07h-1.6M476.7 228.22h1.6M635.3 228.22h-1.6M476.7 225.49h1.6M635.3 225.49h-1.6M476.7 223.38h1.6M635.3 223.38h-1.6M476.7 221.65h1.6M635.3 221.65h-1.6M476.7 220.18h1.6M635.3 220.18h-1.6M476.7 218.92h1.6M635.3 218.92h-1.6M476.7 217.8h1.6M635.3 217.8h-1.6M476.7 216.8h2.8M635.3 216.8h-2.8M476.7 210.22h1.6M635.3 210.22h-1.6M476.7 206.37h1.6M635.3 206.37h-1.6M476.7 203.64h1.6M635.3 203.64h-1.6M476.7 201.53h1.6M635.3 201.53h-1.6M476.7 199.8h1.6M635.3 199.8h-1.6M476.7 198.33h1.6M635.3 198.33h-1.6M476.7 197.07h1.6M635.3 197.07h-1.6M476.7 195.95h1.6M635.3 195.95h-1.6M476.7 194.95h2.8M635.3 194.95h-2.8M476.7 188.37h1.6M635.3 188.37h-1.6M476.7 184.52h1.6M635.3 184.52h-1.6M476.7 181.79h1.6M635.3 181.79h-1.6M476.7 179.68h1.6M635.3 179.68h-1.6M476.7 177.95h1.6M635.3 177.95h-1.6M476.7 176.48h1.6M635.3 176.48h-1.6M476.7 175.22h1.6M635.3 175.22h-1.6M476.7 174.1h1.6M635.3 174.1h-1.6M476.7 173.1h2.8M635.3 173.1h-2.8M476.7 166.52h1.6M635.3 166.52h-1.6M476.7 162.67h1.6M635.3 162.67h-1.6M476.7 159.94h1.6M635.3 159.94h-1.6M476.7 157.83h1.6M635.3 157.83h-1.6M476.7 156.1h1.6M635.3 156.1h-1.6M476.7 154.63h1.6M635.3 154.63h-1.6M476.7 153.37h1.6M635.3 153.37h-1.6M476.7 152.25h1.6M635.3 152.25h-1.6M476.7 151.25h2.8M635.3 151.25h-2.8M476.7 144.67h1.6M635.3 144.67h-1.6M476.7 140.82h1.6M635.3 140.82h-1.6M476.7 138.09h1.6M635.3 138.09h-1.6M476.7 135.98h1.6M635.3 135.98h-1.6M476.7 134.25h1.6M635.3 134.25h-1.6M476.7 132.78h1.6M635.3 132.78h-1.6M476.7 131.52h1.6M635.3 131.52h-1.6M476.7 130.4h1.6M635.3 130.4h-1.6M476.7 129.4h2.8M635.3 129.4h-2.8M476.7 122.82h1.6M635.3 122.82h-1.6M476.7 118.97h1.6M635.3 118.97h-1.6M476.7 116.24h1.6M635.3 116.24h-1.6M476.7 114.13h1.6M635.3 114.13h-1.6M476.7 112.4h1.6M635.3 112.4h-1.6M476.7 110.93h1.6M635.3 110.93h-1.6M476.7 109.67h1.6M635.3 109.67h-1.6M476.7 108.55h1.6M635.3 108.55h-1.6M476.7 107.55h2.8M635.3 107.55h-2.8M476.7 100.97h1.6M635.3 100.97h-1.6M476.7 97.12h1.6M635.3 97.12h-1.6M476.7 94.39h1.6M635.3 94.39h-1.6M476.7 92.28h1.6M635.3 92.28h-1.6M476.7 90.55h1.6M635.3 90.55h-1.6M476.7 89.08h1.6M635.3 89.08h-1.6M476.7 87.82h1.6M635.3 87.82h-1.6M476.7 86.7h1.6M635.3 86.7h-1.6M476.7 85.7h2.8M635.3 85.7h-2.8M476.7 79.12h1.6M635.3 79.12h-1.6M476.7 75.27h1.6M635.3 75.27h-1.6M476.7 72.54h1.6M635.3 72.54h-1.6M476.7 70.43h1.6M635.3 70.43h-1.6M476.7 68.7h1.6M635.3 68.7h-1.6M476.7 67.23h1.6M635.3 67.23h-1.6M476.7 65.97h1.6M635.3 65.97h-1.6M476.7 64.85h1.6M635.3 64.85h-1.6M476.7 63.85h2.8M635.3 63.85h-2.8M476.7 57.27h1.6M635.3 57.27h-1.6M476.7 53.42h1.6M635.3 53.42h-1.6M476.7 50.69h1.6M635.3 50.69h-1.6M476.7 48.58h1.6M635.3 48.58h-1.6M476.7 46.85h1.6M635.3 46.85h-1.6M476.7 45.38h1.6M635.3 45.38h-1.6M476.7 44.12h1.6M635.3 44.12h-1.6M476.7 43h1.6M635.3 43h-1.6" stroke="#111" stroke-width="1.0" fill="none"/><rect x="476.7" y="42" width="158.6" height="218.5" fill="none" stroke="#111" stroke-width="1.35"/><text transform="translate(450.33 46.91) scale(0.998 1)" font-size="14.23">10</text><rect x="450.62" y="45.49" width="3.22" height="2.32" fill="#fff"/><rect x="455.21" y="45.49" width="3.15" height="2.32" fill="#fff"/><text transform="translate(465.6 39) scale(1.143 1)" font-size="5.80">-4</text><text transform="translate(450.33 90.61) scale(0.998 1)" font-size="14.23">10</text><rect x="450.62" y="89.19" width="3.22" height="2.32" fill="#fff"/><rect x="455.21" y="89.19" width="3.15" height="2.32" fill="#fff"/><text transform="translate(465.6 82.64) scale(1.191 1)" font-size="5.63">-6</text><text transform="translate(450.33 134.31) scale(0.998 1)" font-size="14.23">10</text><rect x="450.62" y="132.89" width="3.22" height="2.32" fill="#fff"/><rect x="455.21" y="132.89" width="3.15" height="2.32" fill="#fff"/><text transform="translate(465.6 126.34) scale(1.191 1)" font-size="5.63">-8</text><text transform="translate(446.35 178.01) scale(0.984 1)" font-size="14.23">10</text><rect x="446.63" y="176.59" width="3.18" height="2.32" fill="#fff"/><rect x="451.15" y="176.59" width="3.11" height="2.32" fill="#fff"/><text transform="translate(460.24 170.13) scale(1.206 1)" font-size="6.62">-10</text><rect x="463.06" y="169.47" width="1.81" height="1.56" fill="#fff"/><rect x="465.64" y="169.47" width="1.77" height="1.56" fill="#fff"/><text transform="translate(446.35 221.71) scale(0.984 1)" font-size="14.23">10</text><rect x="446.63" y="220.29" width="3.18" height="2.32" fill="#fff"/><rect x="451.15" y="220.29" width="3.11" height="2.32" fill="#fff"/><text transform="translate(460.24 213.9) scale(1.203 1)" font-size="6.71">-12</text><rect x="463.09" y="213.23" width="1.83" height="1.57" fill="#fff"/><rect x="465.69" y="213.23" width="1.79" height="1.57" fill="#fff"/><text transform="translate(446.35 265.41) scale(0.984 1)" font-size="14.23">10</text><rect x="446.63" y="263.99" width="3.18" height="2.32" fill="#fff"/><rect x="451.15" y="263.99" width="3.11" height="2.32" fill="#fff"/><text transform="translate(460.24 257.6) scale(1.168 1)" font-size="6.81">-14</text><rect x="463.05" y="256.92" width="1.81" height="1.58" fill="#fff"/><rect x="465.62" y="256.92" width="1.77" height="1.58" fill="#fff"/><text transform="translate(473.85 274.06) scale(0.961 1)" font-size="13.94">-20</text><text transform="translate(510.1 274.06) scale(0.961 1)" font-size="13.94">-10</text><rect x="514.83" y="272.67" width="3.04" height="2.29" fill="#fff"/><rect x="519.16" y="272.67" width="2.98" height="2.29" fill="#fff"/><text transform="translate(552.2 274.06) scale(1.000 1)" font-size="13.94">0</text><text transform="translate(583.53 274.06) scale(1.000 1)" font-size="13.94">10</text><rect x="583.81" y="272.67" width="3.17" height="2.29" fill="#fff"/><rect x="588.32" y="272.67" width="3.1" height="2.29" fill="#fff"/><text transform="translate(619.96 274.06) scale(1.000 1)" font-size="13.94">20</text><text transform="translate(441.2 167.05) rotate(-90)" font-size="12.75">I</text><text transform="translate(446.38 163.25) rotate(-90) scale(1.063 1)" font-size="12.39">DS</text><text transform="translate(441.24 142.1) rotate(-90) scale(1.234 1)" font-size="12.19">(A)</text><text transform="translate(533.43 290) scale(0.966 1)" font-size="13.91">V</text><text transform="translate(542.05 296.06) scale(0.954 1)" font-size="13.66">GS</text><text transform="translate(565.17 289.94) scale(1.049 1)" font-size="13.16">(V)</text></svg></body></html>
